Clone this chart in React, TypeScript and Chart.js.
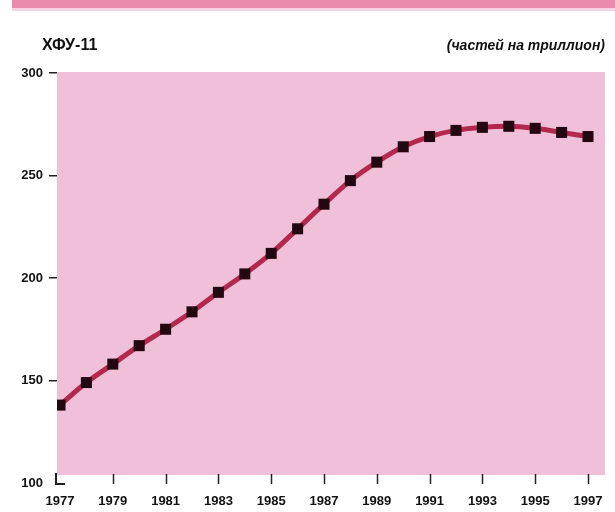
import React, { useEffect, useRef } from "react";
import { Chart, registerables } from "chart.js";

Chart.register(...registerables);

const years = [1977, 1978, 1979, 1980, 1981, 1982, 1983, 1984, 1985, 1986, 1987, 1988, 1989, 1990, 1991, 1992, 1993, 1994, 1995, 1996, 1997];
const cfc11 = [138, 149, 158, 167, 175, 183.5, 193, 202, 212, 224, 236, 247.5, 256.5, 264, 269, 272, 273.5, 274, 273, 271, 269];
const xTickYears = [1977, 1979, 1981, 1983, 1985, 1987, 1989, 1991, 1993, 1995, 1997];
const yTickValues = [100, 150, 200, 250, 300];
const titleText = "ХФУ-11";
const unitText = "(частей на триллион)";

const PINK = "#F0C0D8";
const FONT = "'Liberation Sans', Arial, sans-serif";

const decorPlugin = {
  id: "decor",
  beforeDraw(chart: any) {
    const { ctx, chartArea } = chart;
    const xs = chart.scales.x;
    ctx.save();
    // top band
    ctx.fillStyle = "#E98AAE";
    ctx.fillRect(12, 0, 603, 8);
    ctx.fillStyle = "#F6D3E0";
    ctx.fillRect(12, 8, 603, 3);
    // plot background
    ctx.fillStyle = PINK;
    ctx.fillRect(chartArea.left, chartArea.top - 1, chartArea.right - chartArea.left, chartArea.bottom - chartArea.top - 7);
    // header texts
    ctx.fillStyle = "#111";
    ctx.textBaseline = "middle";
    ctx.textAlign = "left";
    ctx.font = "bold 16px " + FONT;
    ctx.fillText(titleText, 42, 46);
    ctx.textAlign = "right";
    ctx.font = "italic bold 14px " + FONT;
    ctx.fillText(unitText, 605, 46);
    // x tick marks
    ctx.strokeStyle = "#222";
    ctx.lineWidth = 1.5;
    xTickYears.forEach((yr, i) => {
      if (i === 0) return;
      const px = Math.round(xs.getPixelForValue(yr)) + 0.5;
      ctx.beginPath();
      ctx.moveTo(px, chartArea.bottom - 9);
      ctx.lineTo(px, chartArea.bottom + 1);
      ctx.stroke();
    });
    // corner "L"
    ctx.lineWidth = 2;
    ctx.beginPath();
    ctx.moveTo(chartArea.left - 1, chartArea.bottom - 10);
    ctx.lineTo(chartArea.left - 1, chartArea.bottom + 1);
    ctx.lineTo(chartArea.left + 8, chartArea.bottom + 1);
    ctx.stroke();
    ctx.restore();
  },
};

export default function App() {
  const ref = useRef<HTMLCanvasElement | null>(null);
  useEffect(() => {
    if (!ref.current) return;
    const chart = new Chart(ref.current, {
      type: "line",
      data: {
        datasets: [
          {
            data: years.map((y, i) => ({ x: y, y: cfc11[i] })),
            borderColor: "#B3284F",
            borderWidth: 5,
            tension: 0.4,
            cubicInterpolationMode: "monotone",
            pointStyle: "rect",
            pointRadius: 7.8,
            pointBackgroundColor: "#240811",
            pointBorderColor: "#240811",
            pointBorderWidth: 0,
          },
        ],
      },
      options: {
        responsive: false,
        animation: false,
        layout: { padding: { top: 73, right: 10, left: 0, bottom: 0 } },
        plugins: { legend: { display: false }, tooltip: { enabled: false }, title: { display: false } },
        scales: {
          x: {
            type: "linear",
            min: 1976.886,
            max: 1997.644,
            afterBuildTicks: (scale: any) => {
              scale.ticks = xTickYears.map((v) => ({ value: v }));
            },
            afterFit: (scale: any) => {
              scale.height = 29;
            },
            border: { display: false },
            grid: { display: false, drawTicks: false },
            ticks: {
              color: "#111",
              font: { family: FONT, size: 13, weight: "bold" },
              padding: 11,
              maxRotation: 0,
              autoSkip: false,
              callback: (v: any) => String(v),
            },
          },
          y: {
            min: 100,
            max: 300,
            afterBuildTicks: (scale: any) => {
              scale.ticks = yTickValues.map((v) => ({ value: v }));
            },
            afterFit: (scale: any) => {
              scale.width = 57;
            },
            border: { display: false },
            grid: {
              drawOnChartArea: false,
              drawTicks: true,
              tickLength: 8,
              tickColor: (c: any) => (c.tick && c.tick.value === 100 ? "rgba(0,0,0,0)" : "#222"),
              lineWidth: 1.5,
            },
            ticks: {
              color: "#111",
              font: { family: FONT, size: 13, weight: "bold" },
              padding: 6,
              callback: (v: any) => String(v),
            },
          },
        },
      },
      plugins: [decorPlugin],
    } as any);
    return () => chart.destroy();
  }, []);
  return (
    <div style={{ position: "fixed", left: 0, top: 0, width: 615, height: 512, background: "#fff" }}>
      <canvas ref={ref} width={615} height={512} style={{ width: 615, height: 512 }} />
    </div>
  );
}
